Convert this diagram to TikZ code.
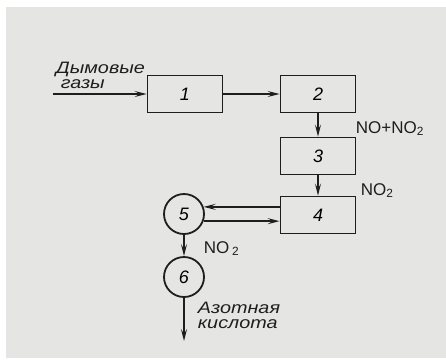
\documentclass[tikz,border=0pt]{standalone}
\usepackage{fontspec}
\setmainfont{Liberation Sans}
\newfontfamily\labfont[FakeStretch=1.2]{Liberation Sans}
\usetikzlibrary{arrows.meta}
\definecolor{paper}{RGB}{229,229,227}
\definecolor{ink}{RGB}{30,30,30}
\begin{document}
\begin{tikzpicture}[x=1pt,y=-1pt,
  line width=1.8pt, draw=ink,
  >={Stealth[length=12pt,width=6pt,inset=5pt]},
  blk/.style={draw=ink,rectangle,minimum width=75pt,minimum height=37pt,inner sep=0pt,font=\fontsize{18}{20}\selectfont\itshape},
  rnd/.style={draw=ink,circle,minimum size=40pt,inner sep=0pt,font=\fontsize{18}{20}\selectfont\itshape},
  lbl/.style={inner sep=0pt,text=ink,font=\fontsize{17}{19}\selectfont},
  ilbl/.style={inner sep=0pt,text=ink,align=left,font=\labfont\fontsize{16.5}{15}\selectfont\itshape}]
\useasboundingbox (0,0) rectangle (446,360);
\fill[paper] (6,7) rectangle (446,358);
\node[blk] (b1) at (185,94) {1};
\node[blk] (b2) at (318,94) {2};
\node[blk] (b3) at (318,156) {3};
\node[blk] (b4) at (318,215) {4};
\node[rnd] (c5) at (184,214) {5};
\node[rnd] (c6) at (184,277) {6};
\coordinate (in) at (53,94);
\coordinate (out) at (184,341);
\draw[->] (in) -- (b1);
\draw[->] (b1) -- (b2);
\draw[->] (b2) -- (b3);
\draw[->] (b3) -- (b4);
\draw[->] (b4.west |- c5.20) -- (c5.20);
\draw[->] (c5.-20) -- (c5.-20 -| b4.west);
\draw[->] (c5) -- (c6);
\draw[->] (c6) -- (out);
\node[ilbl,anchor=base west] (t1) at (55,88) {Дымовые\\\hspace*{5pt}газы};
\node[lbl,anchor=base west] (t3) at (355,133) {NO+NO\textsubscript{2}};
\node[lbl,anchor=base west] (t4) at (360,195) {NO\textsubscript{2}};
\node[lbl,anchor=base west] (t5) at (203,253) {NO\,\textsubscript{2}};
\node[ilbl,anchor=base west] (t6) at (197,328) {Азотная\\кислота};
\end{tikzpicture}
\end{document}
